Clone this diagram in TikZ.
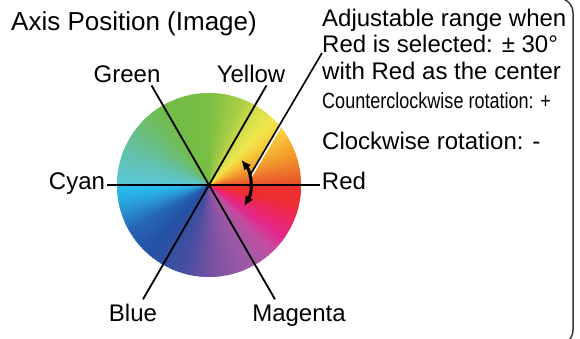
\documentclass[tikz,border=0pt]{standalone}
\usepackage{fontspec}
\setmainfont{Liberation Sans}
\usepackage{xcolor}
\usetikzlibrary{arrows.meta,calc,positioning}
\definecolor{framegray}{HTML}{3A3A3A}
\definecolor{w0}{HTML}{E94E2B}
\definecolor{w1}{HTML}{F39A2C}
\definecolor{w2}{HTML}{F7C93A}
\definecolor{w3}{HTML}{F1E64B}
\definecolor{w4}{HTML}{DDE24C}
\definecolor{w5}{HTML}{A6CD45}
\definecolor{w6}{HTML}{7BBF43}
\definecolor{w7}{HTML}{72BD47}
\definecolor{w8}{HTML}{6ABD78}
\definecolor{w9}{HTML}{62C2B0}
\definecolor{w10}{HTML}{5BC8D8}
\definecolor{w11}{HTML}{25C4F3}
\definecolor{w12}{HTML}{2A9AD8}
\definecolor{w13}{HTML}{2566B4}
\definecolor{w14}{HTML}{2451A3}
\definecolor{w15}{HTML}{4A4EA0}
\definecolor{w16}{HTML}{7E52A3}
\definecolor{w17}{HTML}{A35AA6}
\definecolor{w18}{HTML}{C84A9E}
\definecolor{w19}{HTML}{E4278C}
\definecolor{w20}{HTML}{ED2755}
\definecolor{w21}{HTML}{EE2E2E}
\definecolor{w22}{HTML}{EE3030}

\begin{document}
\begin{tikzpicture}[x=1pt,y=1pt,font=\fontsize{24}{28}\selectfont]
  \tikzset{lbl/.style={inner sep=2pt, anchor=base}, note/.style={inner sep=0pt, anchor=base west}, axis/.style={black, line width=1.8pt}}
  \useasboundingbox (0,0) rectangle (580,339);
  \clip (0,0) rectangle (580,339);
  \draw[framegray, line width=1.5pt, rounded corners=15pt] (-20,-6) rectangle (573,341);
  \coordinate (O) at (209,154);
  \begin{scope}
    \clip (O) circle[radius=92];
    \foreach \sa/\sb/\ca/\cb in {0/20/w0/w1, 20/35/w1/w2, 35/45/w2/w3, 45/55/w3/w4, 55/70/w4/w5, 70/90/w5/w6, 90/120/w6/w7, 120/140/w7/w8, 140/160/w8/w9, 160/180/w9/w10, 180/195/w11/w12, 195/210/w12/w13, 210/230/w13/w14, 230/255/w14/w15, 255/275/w15/w16, 275/300/w16/w17, 300/315/w17/w18, 315/325/w18/w19, 325/340/w19/w20, 340/350/w20/w21, 350/360/w21/w22}{
      \foreach \i in {0,...,11}{
        \pgfmathsetmacro\angA{\sa+(\sb-\sa)*\i/12}
        \pgfmathsetmacro\angB{\sa+(\sb-\sa)*(\i+1)/12+0.3}
        \pgfmathtruncatemacro\mix{(\i+0.5)*100/12}
        \filldraw[\cb!\mix!\ca, line width=0.6pt, line join=round] (O) -- ++(\angA:95) arc[start angle=\angA, end angle=\angB, radius=95] -- cycle;
      }
    }
  \end{scope}
  \node[note, font=\fontsize{26}{28}\selectfont] (title) at (11,308) {Axis Position (Image)};
  \node[lbl] (green) at (127,256) {Green};
  \node[lbl] (yellow) at (251,256) {Yellow};
  \node[lbl] (cyan) at (77,149) {Cyan};
  \node[lbl] (red) at (344,149) {Red};
  \node[lbl] (blue) at (133,17) {Blue};
  \node[lbl] (magenta) at (299,17) {Magenta};
  \node[note] (adj1) at (322,312) {Adjustable range when};
  \node[note] (adj2) at (322,286) {Red is selected: ± 30°};
  \node[note] (adj3) at (322,259) {with Red as the center};
  \node[note] (ccw) at (322,230) {\scalebox{0.82}[1]{\fontsize{22}{24}\selectfont Counterclockwise rotation: +}};
  \node[note] (cw) at (322,189) {Clockwise rotation: -};
  \coordinate (gTop) at ($(O)+(120:115)$);
  \coordinate (gBot) at ($(O)+(300:132)$);
  \coordinate (yTop) at ($(O)+(60:115)$);
  \coordinate (yBot) at ($(O)+(240:132)$);
  \draw[axis] (cyan.east |- O) -- (red.west |- O);
  \draw[axis] (gTop) -- (gBot);
  \draw[axis] (yTop) -- (yBot);
  \coordinate (lead) at (249,162);
  \coordinate (rim) at (279.3,213.4);
  \draw[white, line width=2pt] ($(lead)+(2.2,0.8)$) -- ($(rim)+(2.2,0.8)$);
  \draw[black, line width=1.6pt] (lead) -- (adj2.base west);
  \draw[black, line width=3pt, {Latex[length=10pt,width=9pt]}-{Latex[length=10pt,width=9pt]}] ($(O)+(-31:41)$) arc[start angle=-31, end angle=38, radius=41];
\end{tikzpicture}
\end{document}
